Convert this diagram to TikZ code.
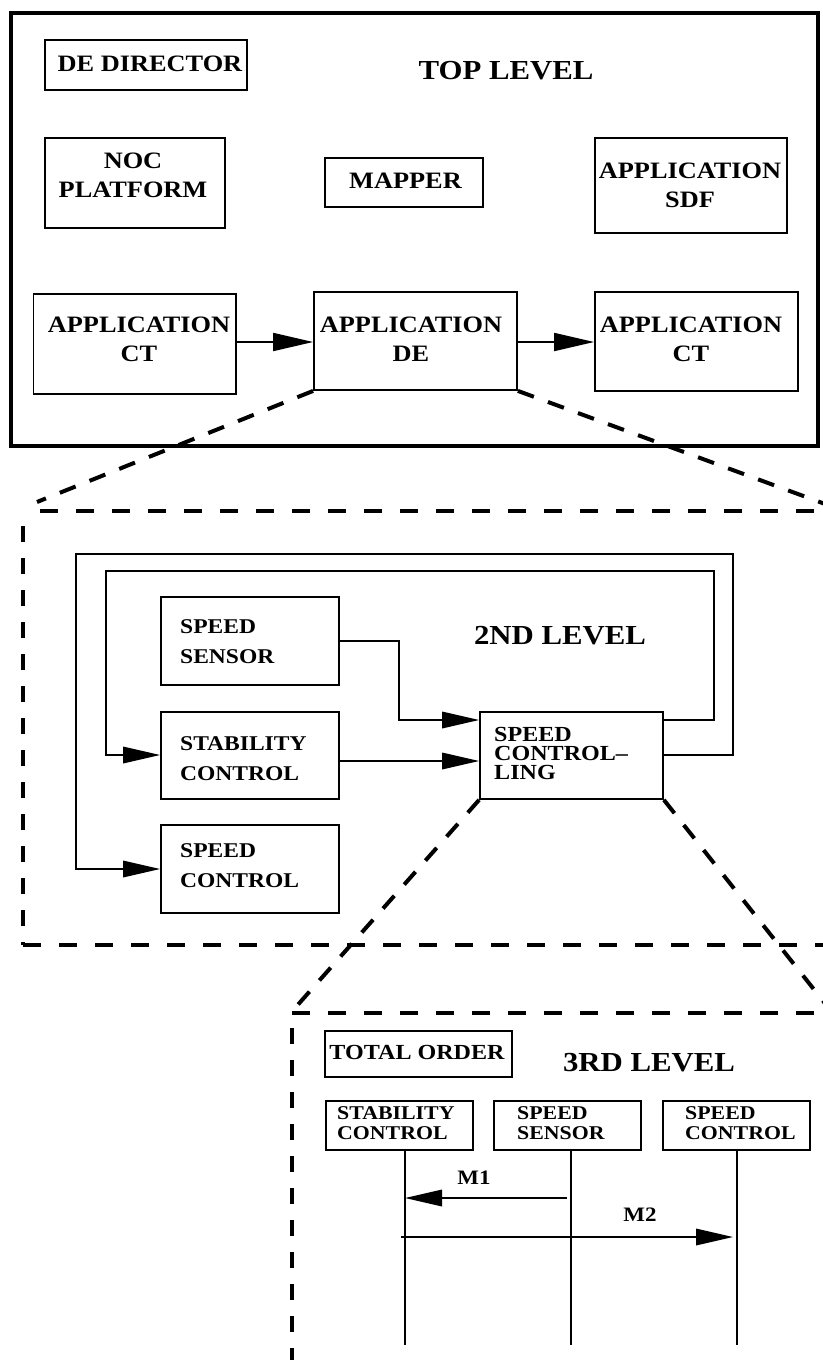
\documentclass[tikz,border=0pt]{standalone}
\usepackage{fontspec}
\setmainfont{Liberation Serif}[FakeStretch=1.12]
\usetikzlibrary{arrows.meta}
\begin{document}
\begin{tikzpicture}[x=1pt,y=-1pt,
  box/.style={draw, line width=1.8pt, inner sep=0pt},
  tx/.style={inner sep=0pt, align=center},
  txl/.style={inner sep=0pt, align=left, anchor=west},
  fa/.style={font=\bfseries\fontsize{23.5pt}{29pt}\selectfont},
  fbig/.style={font=\bfseries\fontsize{27.5pt}{30pt}\selectfont},
  fb/.style={font=\bfseries\fontsize{21pt}{30pt}\selectfont},
  fbt/.style={font=\bfseries\fontsize{21.5pt}{19pt}\selectfont},
  fc/.style={font=\bfseries\fontsize{19.5pt}{20pt}\selectfont},
  fm/.style={font=\bfseries\fontsize{20.5pt}{22pt}\selectfont},
  fto/.style={font=\bfseries\fontsize{21.5pt}{22pt}\selectfont},
  wire/.style={line width=1.8pt},
  arr/.style={line width=1.8pt, -{Triangle[length=37pt,width=16.5pt]}},
  arrbig/.style={line width=1.8pt, -{Triangle[length=40pt,width=18pt]}},
  dshh/.style={line width=4pt, dash pattern=on 18pt off 18pt},
  dshv/.style={line width=4pt, dash pattern=on 16pt off 16pt},
  dshd/.style={line width=4pt, dash pattern=on 17pt off 15pt},
]
\useasboundingbox (0,0) rectangle (822,1360);

% ---------------- TOP LEVEL ----------------
\node[draw, line width=4pt, inner sep=0pt, minimum width=807.5pt, minimum height=433pt] (topframe) at (414.25,229) {};
\node[tx, fbig] (toplbl) at (506,71) {TOP LEVEL};

\node[box, minimum width=202pt, minimum height=50pt] (dedir) at (146,65) {};
\node[tx, fa] (dedirt) at (150,64) {DE DIRECTOR};

\node[box, minimum width=180pt, minimum height=90pt] (noc) at (135,183) {};
\node[tx, fa] (noct) at (133,175) {NOC\\PLATFORM};

\node[box, minimum width=158pt, minimum height=49pt] (mapper) at (404,182.5) {};
\node[tx, fa] (mappert) at (405.5,181) {MAPPER};

\node[box, minimum width=192pt, minimum height=95pt] (sdf) at (691,185.5) {};
\node[tx, fa] (sdft) at (690,185.5) {APPLICATION\\SDF};

\node[box, minimum width=202.5pt, minimum height=100pt] (ctl) at (134.75,344) {};
\node[tx, fa] (ctlt) at (139,339.5) {APPLICATION\\CT};

\node[box, minimum width=203pt, minimum height=98pt] (de) at (415.5,341) {};
\node[tx, fa] (det) at (411,339.5) {APPLICATION\\DE};

\node[box, minimum width=203pt, minimum height=99pt] (ctr) at (696.5,341.5) {};
\node[tx, fa] (ctrt) at (691,339.5) {APPLICATION\\CT};

\draw[arrbig] (ctl.east |- 0,342) -- (de.west |- 0,342);
\draw[arrbig] (de.east |- 0,342) -- (ctr.west |- 0,342);

% zoom lines top -> 2nd
\coordinate (z1l) at (37,502);
\coordinate (z1r) at (840,509.5);
\draw[dshd] (de.south west) -- (z1l);
\draw[dshd] (de.south east) -- (z1r);

% ---------------- 2ND LEVEL ----------------
\coordinate (f2tl) at (23,511);
\coordinate (f2bl) at (23,945);
\draw[dshh] (850,511) -- (f2tl);
\draw[dshh] (f2bl) -- (850,945);
\draw[dshv] ([yshift=-15pt]f2tl) -- (f2bl);

\node[tx, fbig] (lvl2) at (560,636) {2ND LEVEL};

\node[box, minimum width=178pt, minimum height=88pt] (ss) at (250,641) {};
\node[txl, fb] (sst) at (180,642) {SPEED\\SENSOR};

\node[box, minimum width=178pt, minimum height=87pt] (stab) at (250,755.5) {};
\node[txl, fb] (stabt) at (180,758.5) {STABILITY\\CONTROL};

\node[box, minimum width=178pt, minimum height=88pt] (sc) at (250,869) {};
\node[txl, fb] (sct) at (180,865.5) {SPEED\\CONTROL};

\node[box, minimum width=183pt, minimum height=87pt] (scl) at (571.5,755.5) {};
\node[txl, fbt] (sclt) at (494,753) {SPEED\\CONTROL–\\LING};

\draw[arr] (ss.east) -| (399,720) -- (scl.west |- 0,720);
\draw[arr] (stab.east |- 0,761) -- (scl.west |- 0,761);
\draw[arr] (scl.east |- 0,720) -| (714,571) -| (106,755) -- (stab.west |- 0,755);
\draw[arr] (scl.east |- 0,755) -| (733,554) -| (76,869) -- (sc.west |- 0,869);

% zoom lines 2nd -> 3rd
\coordinate (z2l) at (295,1008);
\coordinate (z2r) at (835,1016);
\draw[dshd] (scl.south west) -- (z2l);
\draw[dshd] (scl.south east) -- (z2r);

% ---------------- 3RD LEVEL ----------------
\coordinate (f3tl) at (292,1013);
\draw[dshh] (850,1013) -- (f3tl);
\draw[dshv] ([yshift=-15pt]f3tl) -- (292,1370);

\node[tx, fbig] (lvl3) at (649,1063) {3RD LEVEL};

\node[box, minimum width=187pt, minimum height=46pt] (tord) at (418.5,1054) {};
\node[tx, fto] (tordt) at (417,1052) {TOTAL ORDER};

\node[box, minimum width=147pt, minimum height=49pt] (sc3) at (399.5,1125.5) {};
\node[txl, fc] (sc3t) at (337,1123) {STABILITY\\CONTROL};

\node[box, minimum width=147pt, minimum height=49pt] (ss3) at (567.5,1125.5) {};
\node[txl, fc] (ss3t) at (517,1123) {SPEED\\SENSOR};

\node[box, minimum width=147pt, minimum height=49pt] (spc3) at (736.5,1125.5) {};
\node[txl, fc] (spc3t) at (685,1123) {SPEED\\CONTROL};

\coordinate (l1e) at (405,1345);
\coordinate (l2e) at (571,1345);
\coordinate (l3e) at (737,1345);
\draw[wire] (sc3.south -| l1e) -- (l1e);
\draw[wire] (ss3.south -| l2e) -- (l2e);
\draw[wire] (spc3.south -| l3e) -- (l3e);

\coordinate (m1s) at (567,1198);
\coordinate (m1e) at (405,1198);
\coordinate (m2s) at (401,1237);
\coordinate (m2e) at (733,1237);
\draw[arr] (m1s) -- (m1e);
\draw[arr] (m2s) -- (m2e);
\node[tx, fm] (m1) at (474,1178) {M1};
\node[tx, fm] (m2) at (640,1215) {M2};
\end{tikzpicture}
\end{document}
